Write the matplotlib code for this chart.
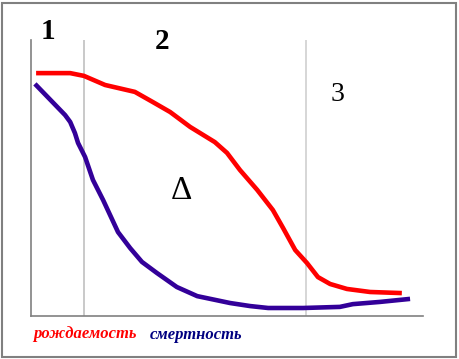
import matplotlib.pyplot as plt
from matplotlib.patches import Rectangle

RED = "#ff0000"
BLUE = "#330099"
NAVY = "#000080"
GRAY = "#808080"

# stage borders (share of time axis)
stage_bounds = [13.5, 70.2]
stage_labels = ["1", "2", "3"]

# birth rate curve
birth_t = [1.3, 10.0, 13.5, 18.9, 26.5, 31.1, 35.5, 40.6, 46.9, 50.0, 53.3, 57.7,
           61.7, 64.3, 67.4, 70.4, 73.2, 76.3, 80.6, 86.5, 94.6]
birth_r = [88.0, 88.0, 87.0, 83.7, 81.2, 77.5, 73.9, 68.5, 63.0, 59.1, 52.9, 45.7,
           38.4, 31.9, 23.9, 19.2, 14.1, 11.6, 9.8, 8.7, 8.3]

# death rate curve
death_t = [1.0, 8.7, 10.0, 11.2, 12.0, 13.8, 15.8, 18.4, 22.2, 25.3, 28.3, 32.1,
           37.2, 42.4, 50.8, 55.9, 60.5, 69.4, 78.8, 82.1, 89.0, 96.7]
death_r = [84.1, 72.8, 70.3, 66.3, 62.7, 57.6, 49.3, 42.0, 30.4, 24.6, 19.6, 15.6,
           10.5, 7.2, 4.7, 3.6, 2.9, 2.9, 3.3, 4.3, 5.1, 6.2]

fig = plt.figure(figsize=(4.59, 3.59), dpi=100)
fig.patches.append(Rectangle((2 / 459, 2 / 359), 454 / 459, 354 / 359,
                             transform=fig.transFigure, fill=False,
                             edgecolor=GRAY, lw=1.5))

ax = fig.add_axes([31 / 459, 43 / 359, 392 / 459, 276 / 359])
ax.set_xlim(0, 100)
ax.set_ylim(0, 100)
for sp in ("top", "right"):
    ax.spines[sp].set_visible(False)
for sp in ("left", "bottom"):
    ax.spines[sp].set_color(GRAY)
    ax.spines[sp].set_linewidth(1.2)
ax.set_xticks([])
ax.set_yticks([])

ax.axvline(stage_bounds[0], color="#c0c0c0", lw=1.2)
ax.axvline(stage_bounds[1], color="#d0d0d0", lw=1.2)

ax.plot(birth_t, birth_r, color=RED, lw=3.3, solid_capstyle="butt")
ax.plot(death_t, death_r, color=BLUE, lw=3.3, solid_capstyle="butt")

serif = ["Liberation Serif", "DejaVu Serif"]
ax.text(4.3, 103, stage_labels[0], ha="center", va="center", fontsize=21,
        fontweight="bold", family=serif, clip_on=False)
ax.text(33.4, 99.3, stage_labels[1], ha="center", va="center", fontsize=21,
        fontweight="bold", family=serif, clip_on=False)
ax.text(78.1, 80.4, stage_labels[2], ha="center", va="center", fontsize=20,
        family=serif)
ax.text(38.3, 45.3, "Δ", ha="center", va="center", fontsize=24, family=serif)

fig.text(33 / 459, 1 - 334 / 359, "рождаемость", color=RED, fontsize=12,
         fontweight="bold", style="italic", family=serif, va="center")
fig.text(150 / 459, 1 - 335 / 359, "смертность", color=NAVY, fontsize=12,
         fontweight="bold", style="italic", family=serif, va="center")

fig.savefig("out.png", dpi=100, facecolor="white")
